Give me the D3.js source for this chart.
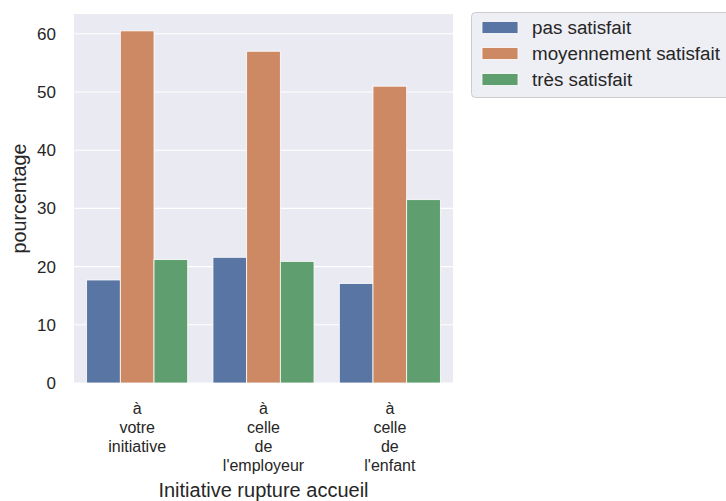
<!DOCTYPE html>
<html>
<head>
<meta charset="utf-8">
<script src="https://cdn.jsdelivr.net/npm/d3@7"></script>
<style>
  html, body { margin: 0; padding: 0; background: #ffffff; }
  svg { display: block; font-family: "Liberation Sans", Arial, sans-serif; }
</style>
</head>
<body>
<svg id="chart" width="726" height="501"></svg>
<script>
const categories = [
  ["à", "votre", "initiative"],
  ["à", "celle", "de", "l'employeur"],
  ["à", "celle", "de", "l'enfant"]
];
const seriesNames = ["pas satisfait", "moyennement satisfait", "très satisfait"];
const pasSatisfait = [17.7, 21.6, 17.1];
const moyennementSatisfait = [60.5, 57.0, 51.0];
const tresSatisfait = [21.2, 20.9, 31.5];
const yTicks = [0, 10, 20, 30, 40, 50, 60];
const colors = ["#5975a4", "#cc8963", "#5f9e6e"];
const xLabel = "Initiative rupture accueil";
const yLabel = "pourcentage";

const series = [pasSatisfait, moyennementSatisfait, tresSatisfait];

const svg = d3.select("#chart");
const m = { left: 74, right: 453, top: 14, bottom: 383 };

const x = d3.scaleBand().domain(d3.range(categories.length)).range([m.left, m.right]).padding(0);
const y = d3.scaleLinear().domain([0, 63.4]).range([m.bottom, m.top]);
const inner = d3.scaleBand().domain(d3.range(series.length))
  .range([x.bandwidth() * 0.1, x.bandwidth() * 0.9]).padding(0);

// background
svg.append("rect").attr("x", m.left).attr("y", m.top)
  .attr("width", m.right - m.left).attr("height", m.bottom - m.top)
  .attr("fill", "#eaeaf2");

// gridlines
svg.append("g").selectAll("line").data(yTicks).join("line")
  .attr("x1", m.left).attr("x2", m.right)
  .attr("y1", d => y(d)).attr("y2", d => y(d))
  .attr("stroke", "#ffffff").attr("stroke-width", 1.1);

// y axis
const yAxis = svg.append("g").attr("transform", `translate(${m.left},0)`)
  .call(d3.axisLeft(y).tickValues(yTicks).tickSize(0).tickPadding(18).tickFormat(d3.format("d")));
yAxis.select(".domain").remove();
yAxis.selectAll("text").attr("font-size", 17).attr("fill", "#262626")
  .attr("font-family", "'Liberation Sans', Arial, sans-serif");

// bars
const bars = svg.append("g");
series.forEach((vals, si) => {
  bars.selectAll(null).data(vals).join("rect")
    .attr("x", (d, i) => x(i) + inner(si))
    .attr("y", d => y(d))
    .attr("width", inner.bandwidth())
    .attr("height", d => y(0) - y(d))
    .attr("fill", colors[si])
    .attr("stroke", "#ffffff").attr("stroke-width", 0.8);
});

// x axis tick labels (multi-line)
const xAxis = svg.append("g").attr("transform", `translate(0,${m.bottom})`)
  .call(d3.axisBottom(x).tickSize(0).tickFormat(() => ""));
xAxis.select(".domain").remove();
xAxis.selectAll(".tick text").remove();
xAxis.selectAll(".tick").each(function(d) {
  const t = d3.select(this).append("text")
    .attr("text-anchor", "middle").attr("fill", "#262626")
    .attr("font-size", 16)
    .attr("font-family", "'Liberation Sans', Arial, sans-serif");
  categories[d].forEach((line, li) => {
    t.append("tspan").attr("x", 0).attr("y", 31 + li * 19).text(line);
  });
});

// axis labels
svg.append("text").attr("x", (m.left + m.right) / 2).attr("y", 497)
  .attr("text-anchor", "middle").attr("font-size", 20).attr("fill", "#262626")
  .text(xLabel);
svg.append("text").attr("transform", `translate(26,${(m.top + m.bottom) / 2}) rotate(-90)`)
  .attr("text-anchor", "middle").attr("font-size", 19.8).attr("fill", "#262626")
  .text(yLabel);

// legend
const lg = svg.append("g");
lg.append("rect").attr("x", 471.5).attr("y", 12.5).attr("width", 270).attr("height", 85)
  .attr("rx", 4).attr("fill", "#eaeaf2").attr("fill-opacity", 0.8)
  .attr("stroke", "#cccccc").attr("stroke-width", 1);
seriesNames.forEach((name, i) => {
  const cy = 27.5 + i * 26;
  lg.append("rect").attr("x", 482).attr("y", cy - 6).attr("width", 36).attr("height", 12)
    .attr("fill", colors[i]).attr("stroke", "#ffffff").attr("stroke-width", 0.8);
  lg.append("text").attr("x", 532).attr("y", cy + 6.5).attr("font-size", 18.8)
    .attr("fill", "#262626").text(name);
});
</script>
</body>
</html>
